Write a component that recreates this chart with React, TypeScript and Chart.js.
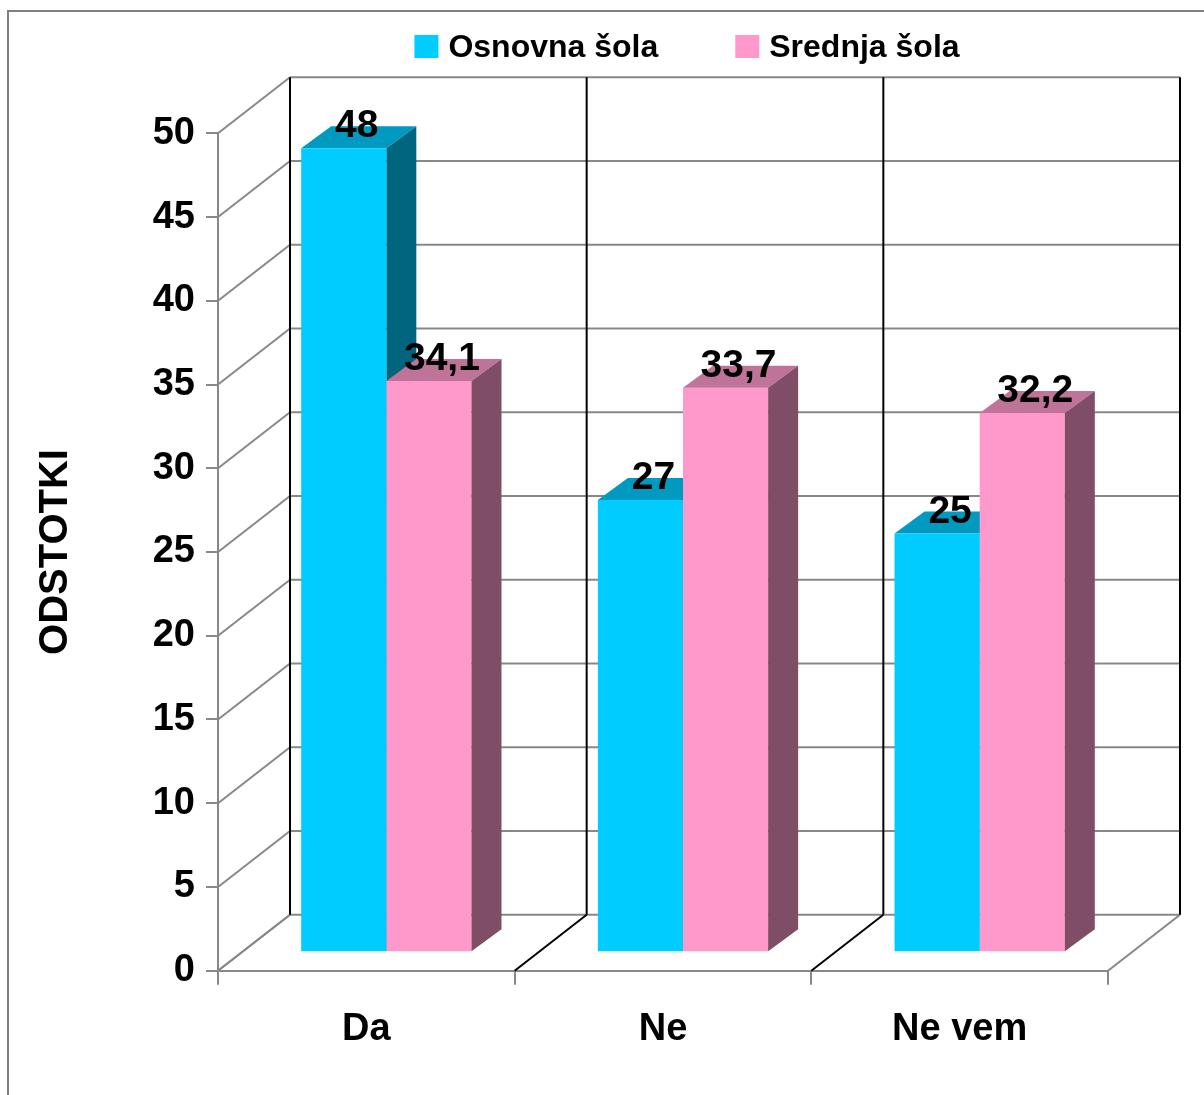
import { useEffect, useRef } from 'react';
import { Chart, registerables } from 'chart.js';

Chart.register(...registerables);

// ---------- data ----------
const categories = ['Da', 'Ne', 'Ne vem'];
const seriesNames = ['Osnovna šola', 'Srednja šola'];
const osnovnaSola = [48, 27, 25];
const srednjaSola = [34.1, 33.7, 32.2];
const yMin = 0;
const yMax = 50;
const yStep = 5;
const yTitle = 'ODSTOTKI';

// ---------- style ----------
const FONT = "'Comic Sans MS', 'Liberation Sans', Arial, sans-serif";
const GRID = '#888888';
const FRONT = ['#00CCFF', '#FF99CC'];
const TOP = ['#0099BF', '#BF7399'];
const SIDE = ['#006680', '#804D66'];

const W = 1204;
const H = 1095;
const AREA_LEFT = 218;
const AREA_RIGHT = 1108;
const AREA_TOP = 133.3;
const AREA_BOTTOM = 970.7;
const PAD_LEFT = 30;
const X_AXIS_H = 100;

const DX = 72; // back wall offset
const DY = -56;
const SX = 20; // bar plane shift
const SY = -18.5;
const BX = 30; // bar depth
const BY = -22;

function fmt(v: number) {
  return String(v).replace('.', ',');
}

function line(ctx: CanvasRenderingContext2D, x1: number, y1: number, x2: number, y2: number, color: string) {
  ctx.strokeStyle = color;
  ctx.beginPath();
  ctx.moveTo(x1, y1);
  ctx.lineTo(x2, y2);
  ctx.stroke();
}

function drawFaces(ctx: CanvasRenderingContext2D, bar: any, top: string, side: string) {
  const { x, y, base, width } = bar.getProps(['x', 'y', 'base', 'width'], true);
  const l = x - width / 2;
  const r = x + width / 2;
  ctx.fillStyle = top;
  ctx.beginPath();
  ctx.moveTo(l, y);
  ctx.lineTo(r, y);
  ctx.lineTo(r + BX, y + BY);
  ctx.lineTo(l + BX, y + BY);
  ctx.closePath();
  ctx.fill();
  ctx.fillStyle = side;
  ctx.beginPath();
  ctx.moveTo(r, y);
  ctx.lineTo(r + BX, y + BY);
  ctx.lineTo(r + BX, base + BY);
  ctx.lineTo(r, base);
  ctx.closePath();
  ctx.fill();
}

const threeD = {
  id: 'threeD',
  beforeDraw(chart: any) {
    const { ctx } = chart;
    ctx.save();
    ctx.fillStyle = '#ffffff';
    ctx.fillRect(0, 0, chart.width, chart.height);
    ctx.strokeStyle = '#808080';
    ctx.lineWidth = 2;
    ctx.beginPath();
    ctx.moveTo(8, chart.height + 5);
    ctx.lineTo(8, 11);
    ctx.lineTo(chart.width + 5, 11);
    ctx.stroke();
    ctx.restore();
  },
  beforeDatasetsDraw(chart: any) {
    const { ctx, chartArea } = chart;
    const { left, right, top, bottom } = chartArea;
    const ys = chart.scales.y;
    ctx.save();
    ctx.lineWidth = 2;
    ys.ticks.forEach((t: any) => {
      const py = ys.getPixelForValue(t.value);
      line(ctx, left, py, left + DX, py + DY, GRID);
      line(ctx, left + DX, py + DY, right + DX, py + DY, GRID);
    });
    const n = categories.length;
    const step = (right - left) / n;
    for (let i = 0; i <= n; i++) {
      const bx = left + i * step;
      const interior = i > 0 && i < n;
      line(ctx, bx, bottom, bx + DX, bottom + DY, interior ? '#000000' : GRID);
      line(ctx, bx + DX, top + DY, bx + DX, bottom + DY, '#000000');
    }
    ctx.restore();

    ctx.save();
    ctx.translate(SX, SY);
    const count = chart.data.datasets.length;
    for (let d = 0; d < count - 1; d++) {
      chart.getDatasetMeta(d).data.forEach((bar: any) => drawFaces(ctx, bar, TOP[d], SIDE[d]));
    }
  },
  afterDatasetsDraw(chart: any) {
    const { ctx } = chart;
    const count = chart.data.datasets.length;
    const last = count - 1;
    chart.getDatasetMeta(last).data.forEach((bar: any) => drawFaces(ctx, bar, TOP[last], SIDE[last]));
    ctx.restore();

    // value labels
    ctx.save();
    ctx.fillStyle = '#000000';
    ctx.font = `bold 39px ${FONT}`;
    ctx.textAlign = 'center';
    ctx.textBaseline = 'alphabetic';
    for (let d = 0; d < count; d++) {
      const vals = chart.data.datasets[d].data as number[];
      chart.getDatasetMeta(d).data.forEach((bar: any, i: number) => {
        const { x, y } = bar.getProps(['x', 'y'], true);
        ctx.fillText(fmt(vals[i]), x + SX + 13, y + SY - 11);
      });
    }
    ctx.restore();
  },
  afterDraw(chart: any) {
    const { ctx } = chart;
    ctx.save();
    ctx.font = `bold 32px ${FONT}`;
    ctx.textBaseline = 'middle';
    ctx.textAlign = 'left';
    const box = 24;
    const gap = 10;
    const spacing = 77;
    const items = chart.data.datasets.map((ds: any, i: number) => ({
      label: ds.label as string,
      color: FRONT[i],
      w: ctx.measureText(ds.label).width,
    }));
    const total = items.reduce((s: number, it: any) => s + box + gap + it.w, 0) + spacing * (items.length - 1);
    let cx = 687 - total / 2;
    const cy = 47;
    items.forEach((it: any) => {
      ctx.fillStyle = it.color;
      ctx.fillRect(cx, cy - box / 2, box, box - 1);
      ctx.fillStyle = '#000000';
      ctx.fillText(it.label, cx + box + gap, cy + 1);
      cx += box + gap + it.w + spacing;
    });
    ctx.restore();
  },
};

export default function App() {
  const ref = useRef<HTMLCanvasElement | null>(null);

  useEffect(() => {
    if (!ref.current) return;
    const chart = new Chart(ref.current, {
      type: 'bar',
      data: {
        labels: categories,
        datasets: [
          { label: seriesNames[0], data: osnovnaSola, backgroundColor: FRONT[0], borderWidth: 0, clip: false as any },
          { label: seriesNames[1], data: srednjaSola, backgroundColor: FRONT[1], borderWidth: 0, clip: false as any },
        ],
      },
      options: {
        responsive: false,
        animation: false,
        devicePixelRatio: 1,
        layout: {
          padding: {
            left: PAD_LEFT,
            right: W - AREA_RIGHT,
            top: AREA_TOP,
            bottom: H - AREA_BOTTOM - X_AXIS_H,
          },
        },
        datasets: {
          bar: {
            categoryPercentage: 0.574,
            barPercentage: 1,
          },
        },
        plugins: {
          legend: { display: false },
          tooltip: { enabled: false },
        },
        scales: {
          x: {
            grid: {
              display: true,
              drawOnChartArea: false,
              drawTicks: true,
              tickLength: 14,
              color: GRID,
              lineWidth: 2,
              offset: true,
            },
            border: { display: true, color: GRID, width: 2 },
            ticks: {
              color: '#000000',
              padding: 22,
              font: { family: FONT, size: 38, weight: 'bold' },
            },
            afterFit: (scale: any) => {
              scale.height = X_AXIS_H;
            },
          },
          y: {
            min: yMin,
            max: yMax,
            ticks: {
              stepSize: yStep,
              color: '#000000',
              padding: 11,
              font: { family: FONT, size: 38, weight: 'bold' },
            },
            grid: {
              display: true,
              drawOnChartArea: false,
              drawTicks: true,
              tickLength: 12,
              color: GRID,
              lineWidth: 2,
            },
            border: { display: true, color: GRID, width: 2 },
            title: {
              display: true,
              text: yTitle,
              color: '#000000',
              padding: { top: 2, bottom: 0 },
              font: { family: FONT, size: 40, weight: 'bold' },
            },
            afterFit: (scale: any) => {
              scale.width = AREA_LEFT - PAD_LEFT;
            },
          },
        },
      },
      plugins: [threeD],
    });
    return () => chart.destroy();
  }, []);

  return (
    <div style={{ position: 'absolute', left: 0, top: 0, width: W, height: H, overflow: 'hidden' }}>
      <canvas ref={ref} width={W} height={H} style={{ display: 'block', width: W, height: H }} />
    </div>
  );
}
